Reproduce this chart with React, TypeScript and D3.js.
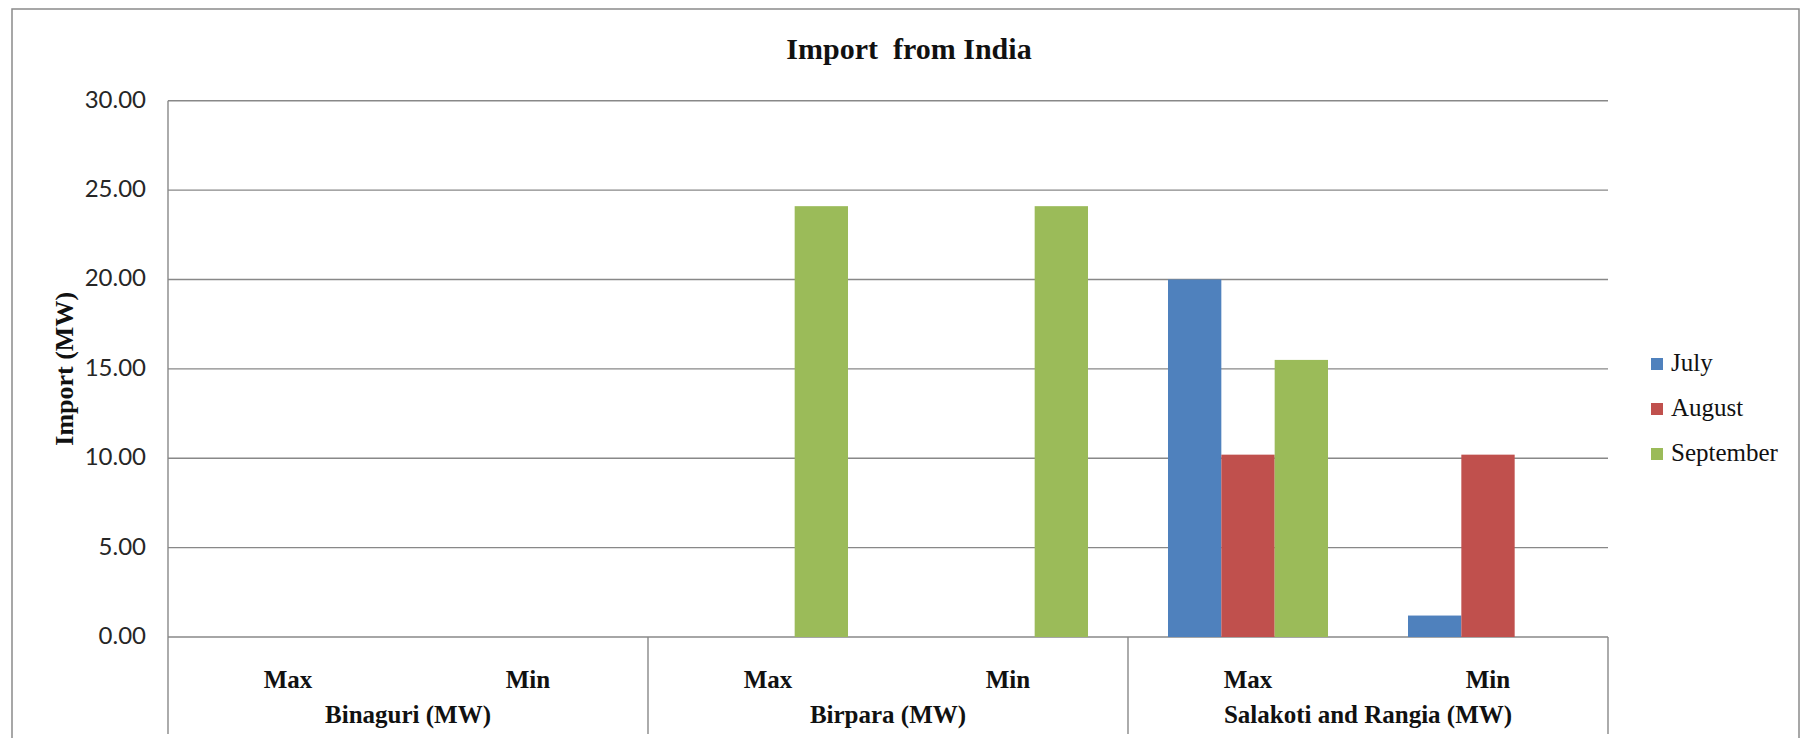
import React from 'react';
import * as d3 from 'd3';

// Chart data
const groups = ['Binaguri (MW)', 'Birpara (MW)', 'Salakoti and Rangia (MW)'];
const subCategories = ['Max', 'Min'];
const seriesNames = ['July', 'August', 'September'];
const julyValues: (number | null)[] = [null, null, null, null, 20.0, 1.2];
const augustValues: (number | null)[] = [null, null, null, null, 10.2, 10.2];
const septemberValues: (number | null)[] = [null, null, 24.1, 24.1, 15.5, null];
const seriesColors = ['#4F81BD', '#C0504D', '#9BBB59'];
const yTicks = [0, 5, 10, 15, 20, 25, 30];

const W = 1809;
const H = 738;
const plot = { left: 168, right: 1608, top: 100.7, bottom: 637 };
const serif = '"Liberation Serif", "Times New Roman", serif';
const sans = 'Lato, "Open Sans", sans-serif';
const gridColor = '#888888';

export default function App() {
  const categories = groups.flatMap((g) => subCategories.map((s) => `${g}|${s}`));
  const seriesValues = [julyValues, augustValues, septemberValues];

  const x = d3.scaleBand<string>().domain(categories).range([plot.left, plot.right]).padding(0);
  const xGroup = d3.scaleBand<string>().domain(groups).range([plot.left, plot.right]).padding(0);
  const xSeries = d3
    .scaleBand<string>()
    .domain(seriesNames)
    .range([0, x.bandwidth()])
    .paddingInner(0)
    .paddingOuter(0.75);
  const y = d3.scaleLinear().domain([0, 30]).range([plot.bottom, plot.top]);

  const fmt = d3.format('.2f');
  const axisBottomEnd = 734;

  const bars = seriesValues.flatMap((vals, si) =>
    vals
      .map((v, ci) => ({ v, ci }))
      .filter((d) => d.v !== null)
      .map((d) => ({
        key: `${si}-${d.ci}`,
        x: (x(categories[d.ci]) ?? 0) + (xSeries(seriesNames[si]) ?? 0),
        y: y(d.v as number),
        w: xSeries.bandwidth(),
        h: y(0) - y(d.v as number),
        color: seriesColors[si],
      }))
  );

  return (
    <svg
      width={W}
      height={H}
      style={{ position: 'absolute', left: 0, top: 0, background: '#ffffff' }}
    >
      <rect x={0} y={0} width={W} height={H} fill="#ffffff" />
      {/* chart area border */}
      <rect x={12} y={9} width={1787} height={800} fill="none" stroke="#8a8a8a" strokeWidth={1.5} />

      {/* title */}
      <text
        x={909}
        y={59}
        textAnchor="middle"
        fontFamily={serif}
        fontWeight="bold"
        fontSize={30}
        fill="#111"
        style={{ whiteSpace: 'pre' }}
      >
        {'Import  from India'}
      </text>

      {/* gridlines */}
      {yTicks.map((t) => (
        <line
          key={`g${t}`}
          x1={plot.left}
          x2={plot.right}
          y1={y(t)}
          y2={y(t)}
          stroke={gridColor}
          strokeWidth={1.4}
        />
      ))}

      {/* y tick labels */}
      {yTicks.map((t) => (
        <text
          key={`t${t}`}
          x={146}
          y={y(t) + 7}
          textAnchor="end"
          fontFamily={sans}
          fontSize={24}
          fill="#262626"
        >
          {fmt(t)}
        </text>
      ))}

      {/* y axis title */}
      <text
        transform={`translate(73, ${(plot.top + plot.bottom) / 2}) rotate(-90)`}
        textAnchor="middle"
        fontFamily={serif}
        fontWeight="bold"
        fontSize={26}
        fill="#111"
      >
        Import (MW)
      </text>

      {/* bars */}
      {bars.map((b) => (
        <rect key={b.key} x={b.x} y={b.y} width={b.w} height={b.h} fill={b.color} />
      ))}

      {/* axes */}
      <line x1={plot.left} x2={plot.left} y1={plot.top} y2={axisBottomEnd} stroke={gridColor} strokeWidth={1.4} />
      {groups.map((g) => {
        const gx = (xGroup(g) ?? 0) + xGroup.bandwidth();
        return (
          <line key={`sep-${g}`} x1={gx} x2={gx} y1={plot.bottom} y2={axisBottomEnd} stroke={gridColor} strokeWidth={1.4} />
        );
      })}

      {/* category labels */}
      {categories.map((c) => (
        <text
          key={`c-${c}`}
          x={(x(c) ?? 0) + x.bandwidth() / 2}
          y={688}
          textAnchor="middle"
          fontFamily={serif}
          fontWeight="bold"
          fontSize={25}
          fill="#111"
        >
          {c.split('|')[1]}
        </text>
      ))}
      {groups.map((g) => (
        <text
          key={`gl-${g}`}
          x={(xGroup(g) ?? 0) + xGroup.bandwidth() / 2}
          y={723}
          textAnchor="middle"
          fontFamily={serif}
          fontWeight="bold"
          fontSize={25}
          fill="#111"
        >
          {g}
        </text>
      ))}

      {/* legend */}
      {seriesNames.map((s, i) => {
        const baseline = 371 + i * 45;
        return (
          <g key={`lg-${s}`}>
            <rect x={1651} y={baseline - 13} width={12} height={12} fill={seriesColors[i]} />
            <text x={1671} y={baseline} fontFamily={serif} fontSize={25} fill="#111">
              {s}
            </text>
          </g>
        );
      })}
    </svg>
  );
}
